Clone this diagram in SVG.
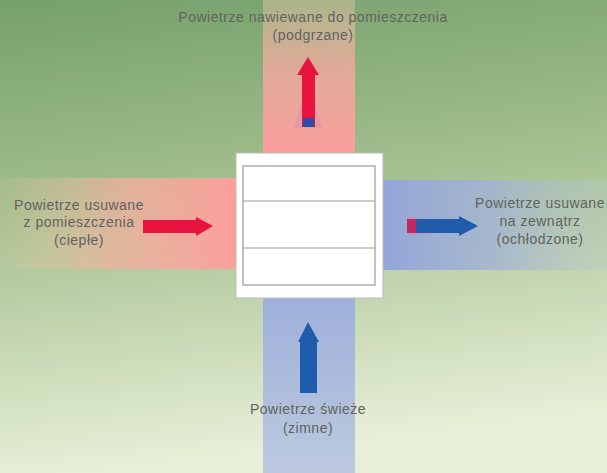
<svg xmlns="http://www.w3.org/2000/svg" width="607" height="473" viewBox="0 0 607 473">
<defs>
<linearGradient id="bg" x1="0" y1="0" x2="0.15" y2="1">
<stop offset="0" stop-color="#75a06c"/>
<stop offset="0.45" stop-color="#a4c08f"/>
<stop offset="1" stop-color="#e8efd8"/>
</linearGradient>
<linearGradient id="gTop" x1="0" y1="1" x2="0" y2="0">
<stop offset="0" stop-color="#fb9e9c" stop-opacity="1"/>
<stop offset="0.6" stop-color="#f6a9a0" stop-opacity="0.75"/>
<stop offset="1" stop-color="#f0c7a8" stop-opacity="0.4"/>
</linearGradient>
<linearGradient id="gLeft" x1="1" y1="0" x2="0" y2="0">
<stop offset="0" stop-color="#fb9f9a" stop-opacity="1"/>
<stop offset="0.5" stop-color="#f6aea0" stop-opacity="0.7"/>
<stop offset="1" stop-color="#e8c8a8" stop-opacity="0.1"/>
</linearGradient>
<linearGradient id="gRight" x1="0" y1="0" x2="1" y2="0">
<stop offset="0" stop-color="#93a5da" stop-opacity="1"/>
<stop offset="0.5" stop-color="#a2b2d6" stop-opacity="0.8"/>
<stop offset="1" stop-color="#b8c8c8" stop-opacity="0.3"/>
</linearGradient>
<linearGradient id="gBottom" x1="0" y1="0" x2="0" y2="1">
<stop offset="0" stop-color="#9fb0dc" stop-opacity="1"/>
<stop offset="1" stop-color="#b4c2e0" stop-opacity="0.85"/>
</linearGradient>
<style>
.lbl{font-family:"Liberation Sans",Arial,sans-serif;font-size:14px;letter-spacing:0.5px;fill:#60645e;text-anchor:middle}
.red{fill:#e8133f}
.blue{fill:#1f5cab}
.frame{fill:#ffffff;stroke:#b8bdb6;stroke-width:1}
.inner{fill:#ffffff;stroke:#9a9a9a;stroke-width:1.2}
.div{stroke:#9a9a9a;stroke-width:1.2}
</style>
</defs>
<rect width="607" height="473" fill="url(#bg)"/>

<!-- air streams -->
<rect x="263" y="0" width="92" height="154" fill="url(#gTop)"/>
<rect x="0" y="178" width="237" height="91" fill="url(#gLeft)"/>
<rect x="382" y="180" width="225" height="90" fill="url(#gRight)"/>
<rect x="263" y="297" width="92" height="176" fill="url(#gBottom)"/>

<!-- central unit -->
<g id="unit">
<rect class="frame" x="236" y="153" width="147" height="145"/>
<rect class="inner" x="243" y="166" width="132" height="119"/>
<line class="div" x1="243" y1="201" x2="375" y2="201"/>
<line class="div" x1="243" y1="248" x2="375" y2="248"/>
</g>

<g id="connectors">
<!-- top arrow -->
<polygon points="308,80 294,128 322,128" fill="#b080c0" opacity="0.25"/>
<polygon class="red" points="308,57 319,75 315,75 315,127 302,127 302,75 297,75"/>
<rect x="303" y="118" width="11" height="9" fill="#2a4fa8"/>
<!-- left arrow -->
<polygon class="red" points="143,220 196,220 196,217 213,226 196,236 196,233 143,233"/>
<!-- right arrow -->
<polygon points="407,216 440,221 440,232 407,236" fill="#f07a9a" opacity="0.35"/>
<polygon class="blue" points="407,219 459,219 459,216 478,226 459,236 459,233 407,233"/>
<rect x="407" y="219" width="9" height="14" fill="#c02a60"/>
<!-- bottom arrow -->
<polygon class="blue" points="308,322 319,342 317,342 317,393 300,393 300,342 298,342"/>
</g>

<g id="label-top">
<text class="lbl" x="313" y="22">Powietrze nawiewane do pomieszczenia</text>
<text class="lbl" x="313" y="40">(podgrzane)</text>
</g>
<g id="label-left">
<text class="lbl" x="79" y="210">Powietrze usuwane</text>
<text class="lbl" x="79" y="227">z pomieszczenia</text>
<text class="lbl" x="79" y="245">(ciepłe)</text>
</g>
<g id="label-right">
<text class="lbl" x="540" y="208">Powietrze usuwane</text>
<text class="lbl" x="540" y="226">na zewnątrz</text>
<text class="lbl" x="540" y="244">(ochłodzone)</text>
</g>
<g id="label-bottom">
<text class="lbl" x="308" y="414">Powietrze świeże</text>
<text class="lbl" x="308" y="433">(zimne)</text>
</g>
</svg>
